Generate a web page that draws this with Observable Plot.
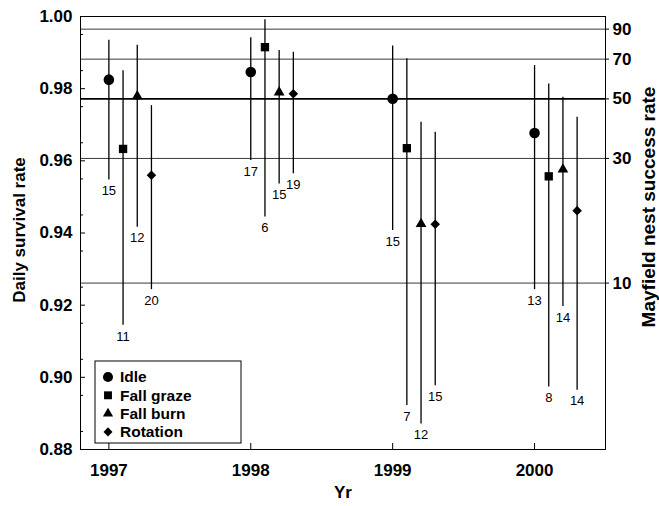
<!DOCTYPE html>
<html><head><meta charset="utf-8">
<script src="https://cdn.jsdelivr.net/npm/d3@7"></script>
<script src="https://cdn.jsdelivr.net/npm/@observablehq/plot@0.6"></script>
<style>
body{margin:0;background:#fff;}
#chart svg{display:block;}
#chart svg [aria-label$="tick label"] text{font-weight:bold;}
</style></head><body><div id="chart"></div>
<script>
// ---- data ----
const years = [1997, 1998, 1999, 2000];
const treatments = ["Idle", "Fall graze", "Fall burn", "Rotation"];
const symbols = ["circle", "square", "triangle", "diamond2"];
const dsrIdle     = [0.9825, 0.9846, 0.9772, 0.9677];
const dsrGraze    = [0.9633, 0.9915, 0.9635, 0.9557];
const dsrBurn     = [0.9779, 0.9790, 0.9425, 0.9576];
const dsrRotation = [0.9560, 0.9786, 0.9424, 0.9462];
const hiIdle      = [0.9934, 0.9941, 0.9918, 0.9864];
const hiGraze     = [0.9850, 0.9991, 0.9883, 0.9813];
const hiBurn      = [0.9920, 0.9906, 0.9707, 0.9776];
const hiRotation  = [0.9753, 0.9901, 0.9679, 0.9721];
const loIdle      = [0.9547, 0.9601, 0.9407, 0.9243];
const loGraze     = [0.9144, 0.9444, 0.8922, 0.8973];
const loBurn      = [0.9416, 0.9536, 0.8871, 0.9196];
const loRotation  = [0.9243, 0.9564, 0.8977, 0.8964];
const nIdle       = [15, 17, 15, 13];
const nGraze      = [11, 6, 7, 8];
const nBurn       = [12, 15, 12, 14];
const nRotation   = [20, 19, 15, 14];
const yTicks = [0.88, 0.90, 0.92, 0.94, 0.96, 0.98, 1.00];
const yMinorTicks = [0.885, 0.895, 0.905, 0.915, 0.925, 0.935, 0.945, 0.955, 0.965, 0.975, 0.985, 0.995];
const mayfieldTicks = [10, 30, 50, 70, 90];
const nestPeriod = 30;

const dsrAll = [dsrIdle, dsrGraze, dsrBurn, dsrRotation];
const hiAll = [hiIdle, hiGraze, hiBurn, hiRotation];
const loAll = [loIdle, loGraze, loBurn, loRotation];
const nAll = [nIdle, nGraze, nBurn, nRotation];

const rows = [];
treatments.forEach((t, ti) => years.forEach((yr, yi) => rows.push({
  treatment: t, ti, year: yr, x: yr + ti * 0.1,
  dsr: dsrAll[ti][yi], lo: loAll[ti][yi], hi: hiAll[ti][yi], n: nAll[ti][yi]
})));
const toDsr = p => Math.pow(p / 100, 1 / nestPeriod);
const mayfieldDsr = mayfieldTicks.map(toDsr);

const symR = [5.3, 4.7, 4.0, 4.3];
const font = "'Liberation Sans', Arial, Helvetica, sans-serif";
const W = 659, H = 506, mL = 80, mR = 54, mT = 16, mB = 57;

const marks = [
  Plot.ruleY(mayfieldTicks.filter(p => p !== 50), {y: toDsr, stroke: "#222", strokeWidth: 0.9}),
  Plot.ruleY([50], {y: toDsr, stroke: "#000", strokeWidth: 1.6}),
  Plot.ruleX(rows, {x: "x", y1: "lo", y2: "hi", stroke: "#000", strokeWidth: 1.3}),
  ...treatments.map((t, ti) => Plot.dot(rows.filter(d => d.ti === ti), {
    x: "x", y: "dsr", symbol: () => symbols[ti], r: symR[ti], fill: "#000", stroke: "none"
  })),
  Plot.text(rows, {x: "x", y: "lo", text: d => String(d.n), dy: 11, fontSize: 13, fill: "#000"}),
  Plot.frame({stroke: "#000", strokeWidth: 1}),
  Plot.axisY(yTicks, {anchor: "left", tickSize: -5, tickPadding: 13, tickFormat: d3.format(".2f"), fontSize: 17, fontWeight: "bold", label: null}),
  Plot.axisY(yMinorTicks, {anchor: "left", tickSize: -3, tickFormat: () => "", label: null}),
  Plot.axisY(mayfieldDsr, {anchor: "right", tickSize: 3, tickPadding: 4, tickFormat: d => String(Math.round(Math.pow(d, nestPeriod) * 100)), fontSize: 17, fontWeight: "bold", label: null}),
  Plot.axisX(years, {anchor: "bottom", tickSize: -6, tickPadding: 20, tickFormat: d => String(d), fontSize: 17, fontWeight: "bold", label: null}),
  Plot.text(["Daily survival rate"], {text: d => d, frameAnchor: "left", textAnchor: "middle", dx: -61, dy: -3, rotate: -90, fontWeight: "bold", fontSize: 17, fill: "#000"}),
  Plot.text(["Mayfield nest success rate"], {text: d => d, frameAnchor: "right", textAnchor: "middle", dx: 43, dy: -26, rotate: -90, fontWeight: "bold", fontSize: 19, fill: "#000"}),
  Plot.text(["Yr"], {text: d => d, frameAnchor: "bottom", textAnchor: "middle", dy: 48, fontWeight: "bold", fontSize: 17, fill: "#000"})
];

const chart = Plot.plot({
  width: W, height: H,
  marginLeft: mL, marginRight: mR, marginTop: mT, marginBottom: mB,
  style: {fontFamily: font, fontSize: "17px", color: "#000", background: "#fff"},
  x: {domain: [1996.8, 2000.5]},
  y: {domain: [0.88, 1.0]},
  symbol: {type: "identity"},
  marks
});
document.getElementById("chart").appendChild(chart);

// ---- legend (inside plot, lower left) ----
const svg = d3.select(chart);
const lg = svg.append("g").attr("transform", `translate(${mL + 15},${mT + 345})`);
lg.append("rect").attr("width", 146).attr("height", 82).attr("fill", "#fff").attr("stroke", "#000").attr("stroke-width", 1);
const d3sym = {circle: d3.symbolCircle, square: d3.symbolSquare, triangle: d3.symbolTriangle, diamond2: d3.symbolDiamond2};
treatments.forEach((t, ti) => {
  const yy = 16 + ti * 18.3;
  lg.append("path").attr("transform", `translate(13,${yy})`)
    .attr("d", d3.symbol(d3sym[symbols[ti]], Math.PI * symR[ti] * symR[ti] * 0.9)())
    .attr("fill", "#000");
  lg.append("text").attr("x", 25).attr("y", yy).attr("dy", "0.35em")
    .attr("text-anchor", "start")
    .attr("font-family", font).attr("font-size", 15.5).attr("font-weight", "bold").attr("fill", "#000").text(t);
});
</script></body></html>
